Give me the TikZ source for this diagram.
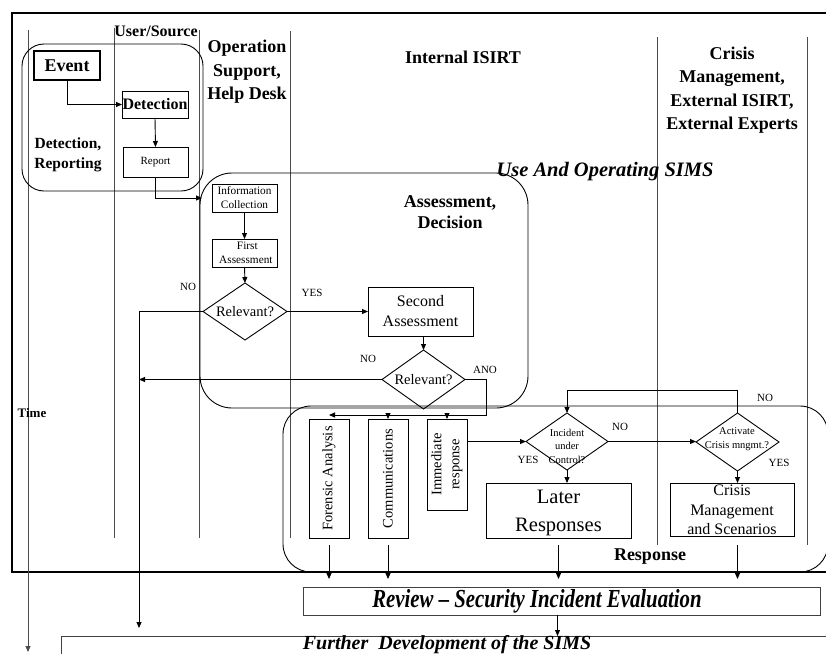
\documentclass[tikz,border=0pt]{standalone}
\usepackage{fontspec}
\setmainfont{Liberation Serif}
\newfontfamily\condserif[FakeStretch=0.8,Ligatures=TeX]{Liberation Serif}
\usetikzlibrary{shapes.geometric,arrows.meta}
\newcommand\fs[2]{\fontsize{#1}{#2}\selectfont}

\begin{document}
\begin{tikzpicture}[x=1pt,y=-1pt,
  every node/.style={inner sep=0pt, outer sep=0pt},
  lane/.style={draw=black!70, line width=1pt},
  frame/.style={draw=black, line width=1.6pt},
  group/.style={draw=black, line width=0.9pt},
  box/.style={draw=black, line width=0.9pt, align=center},
  dec/.style={draw=black, line width=0.9pt, diamond},
  arr/.style={line width=0.9pt, -{Triangle[length=6pt,width=5pt]}},
  lbl/.style={font=\fs{11}{13}},
  hdr/.style={font=\bfseries\fs{18}{23.5}, align=center},
  big/.style={font=\condserif\bfseries\itshape\fs{26}{30}},
]
\useasboundingbox (0,0) rectangle (826,653);
\clip (0,0) rectangle (826,653);

% outer frame (open to the right)
\draw[frame] (840,13) -- (12,13) -- (12,572) -- (840,572);

% swim lanes
\draw[lane] (114,28) -- (114,538);
\draw[lane] (199,30) -- (199,538);
\draw[lane] (290,31) -- (290,538);
\draw[lane] (657,37) -- (657,545);
\draw[lane] (807,37) -- (807,545);

% time axis
\coordinate (t0) at (28,30);
\coordinate (t1) at (28,652);
\draw[lane, arr] (t0) -- (t1);
\node[font=\bfseries\fs{13}{15}] (time) at (32,413) {Time};

% lane headers
\node[hdr, font=\bfseries\fs{16}{20}] (hUser) at (156,31) {User/Source};
\node[hdr] (hOps) at (247,72) {Operation\\Support,\\Help Desk};
\node[hdr] (hInt) at (463,57) {Internal ISIRT};
\node[hdr] (hCrisis) at (732,90) {Crisis\\Management,\\External ISIRT,\\External Experts};

% phase groups
\draw[group, rounded corners=22pt] (22,44) rectangle (203,191);
\draw[group, rounded corners=32pt] (200,173) rectangle (528,408);
\draw[group, rounded corners=28pt] (283,406) rectangle (828,572);

\node[hdr, font=\bfseries\fs{15.5}{20}] (gDet) at (68,155) {Detection,\\Reporting};
\node[hdr, font=\bfseries\fs{18}{21}] (gAss) at (450,212) {Assessment,\\Decision};
\node[font=\bfseries\itshape\fs{20.5}{24}] (gUse) at (605,172) {Use And Operating SIMS};
\node[font=\bfseries\fs{18}{20}] (gResp) at (650,557) {Response};

% detection and reporting
\node[box, line width=1.2pt, minimum width=66, minimum height=29, font=\bfseries\fs{18}{20}] (event) at (67,65.5) {Event};
\node[box, minimum width=66, minimum height=27, font=\bfseries\fs{16}{18}] (det) at (155,104.5) {Detection};
\node[box, minimum width=65, minimum height=30, font=\fs{11}{13}] (report) at (155.5,162) {Report};

% assessment
\node[box, minimum width=65, minimum height=28, font=\fs{11.3}{14}] (info) at (244.5,198) {Information\\Collection};
\node[box, minimum width=65, minimum height=28, font=\fs{11.3}{14}] (first) at (244.5,253) {\ \ First\\\ Assessment};
\node[dec, minimum width=84, minimum height=57] (rel1) at (245,311.5) {};
\node[font=\fs{14.5}{16}] (rel1t) at (rel1) {Relevant?};
\node[box, minimum width=105, minimum height=49, font=\fs{16}{20}] (second) at (420.5,311.5) {Second\\Assessment};
\node[dec, minimum width=83, minimum height=59] (rel2) at (423.5,379.5) {};
\node[font=\fs{14.5}{16}] (rel2t) at (rel2) {Relevant?};

% response
\node[box, minimum width=40, minimum height=119] (foren) at (329,478.5) {};
\node[rotate=90, font=\fs{14.5}{18}] (forent) at (foren) {Forensic Analysis};
\node[box, minimum width=40, minimum height=119] (comm) at (388,478.5) {};
\node[rotate=90, font=\fs{14.5}{18}] (commt) at (comm) {Communications};
\node[box, minimum width=40, minimum height=91] (imm) at (447,464.5) {};
\node[rotate=90, align=center, font=\fs{14.5}{18}] (immt) at (imm) {Immediate\\response};
\node[dec, minimum width=82, minimum height=57] (inc) at (567,441.5) {};
\node[align=center, font=\fs{10.5}{13.5}] (inct) at (567,446) {Incident\\under\\Control?};
\node[dec, minimum width=83, minimum height=58] (act) at (737.5,442) {};
\node[align=center, font=\fs{10.5}{14}] (actt) at (737,439) {Activate\\Crisis mngmt.?};
\node[box, minimum width=145, minimum height=55] (later) at (558.5,510.5) {};
\node[align=center, font=\fs{20.5}{28.5}] (latert) at (558.5,513) {Later\\Responses};
\node[box, minimum width=124, minimum height=53] (crisis) at (732,509.5) {};
\node[align=center, font=\fs{16}{19.5}] (crisist) at (732,510) {Crisis\\Management\\and Scenarios};

% review and further development
\node[box, draw=black!75, minimum width=517, minimum height=28] (review) at (561.5,601) {};
\node[big] (reviewt) at (537,601) {Review \textendash\ Security Incident Evaluation};
\node[box, draw=black!75, anchor=north west, minimum width=790, minimum height=40] (further) at (61,636) {};
\node[font=\bfseries\itshape\fs{20}{24}, anchor=base] (furthert) at (447,649.5) {Further\ \ Development of the SIMS};

% helper points
\coordinate (nocol) at (139,311.5);
\coordinate (anoturn) at (486,415);
\coordinate (toInfo) at (202,198);

% connectors
\draw[arr] (event.south) |- (det.west);
\draw[arr] (det.south) -- (report.north);
\draw[arr] (report.south) |- (toInfo);
\draw[arr] (info.south) -- (first.north);
\draw[arr] (first.south) -- (rel1.north);
\draw[arr] (rel1.east) -- (rel1.east -| second.west);
\draw[arr] (second.south -| rel2.north) -- (rel2.north);
\draw[arr, shorten >=8pt] (rel1.west) -- (nocol) -- (nocol |- further.north);
\draw[arr] (rel2.west) -- (rel2.west -| nocol);
\draw[arr] (rel2.east) -| (anoturn) -- (anoturn -| foren.north);
\draw[arr] (anoturn -| comm.north) -- (comm.north);
\draw[arr] (anoturn -| imm.north) -- (imm.north);
\draw[arr] (imm.east |- inc.west) -- (inc.west);
\draw[arr] (inc.east) -- (inc.east -| act.west);
\draw[arr] (act.north) -- ++(0,-23) -| (inc.north);
\draw[arr] (inc.south) -- (inc.south |- later.north);
\draw[arr] (act.south) -- (act.south |- crisis.north);
\draw[arr, shorten <=7pt, shorten >=8pt] (foren.south) -- (foren.south |- review.north);
\draw[arr, shorten <=7pt, shorten >=8pt] (comm.south) -- (comm.south |- review.north);
\draw[arr, shorten <=7pt, shorten >=8pt] (later.south) -- (later.south |- review.north);
\draw[arr, shorten <=9pt, shorten >=8pt] (act.south |- crisis.south) -- (act.south |- review.north);
\draw[arr] ([xshift=-4pt]review.south) -- ([xshift=-4pt]review.south |- further.north);

% decision labels
\node[lbl] (lNo1) at (188,287) {NO};
\node[lbl] (lYes1) at (312,293) {YES};
\node[lbl] (lNo2) at (368,359) {NO};
\node[lbl] (lAno) at (485,370) {ANO};
\node[lbl] (lYes2) at (528,460) {YES};
\node[lbl] (lNo3) at (620,427) {NO};
\node[lbl] (lNo4) at (765,398) {NO};
\node[lbl] (lYes3) at (779,463) {YES};
\end{tikzpicture}
\end{document}
